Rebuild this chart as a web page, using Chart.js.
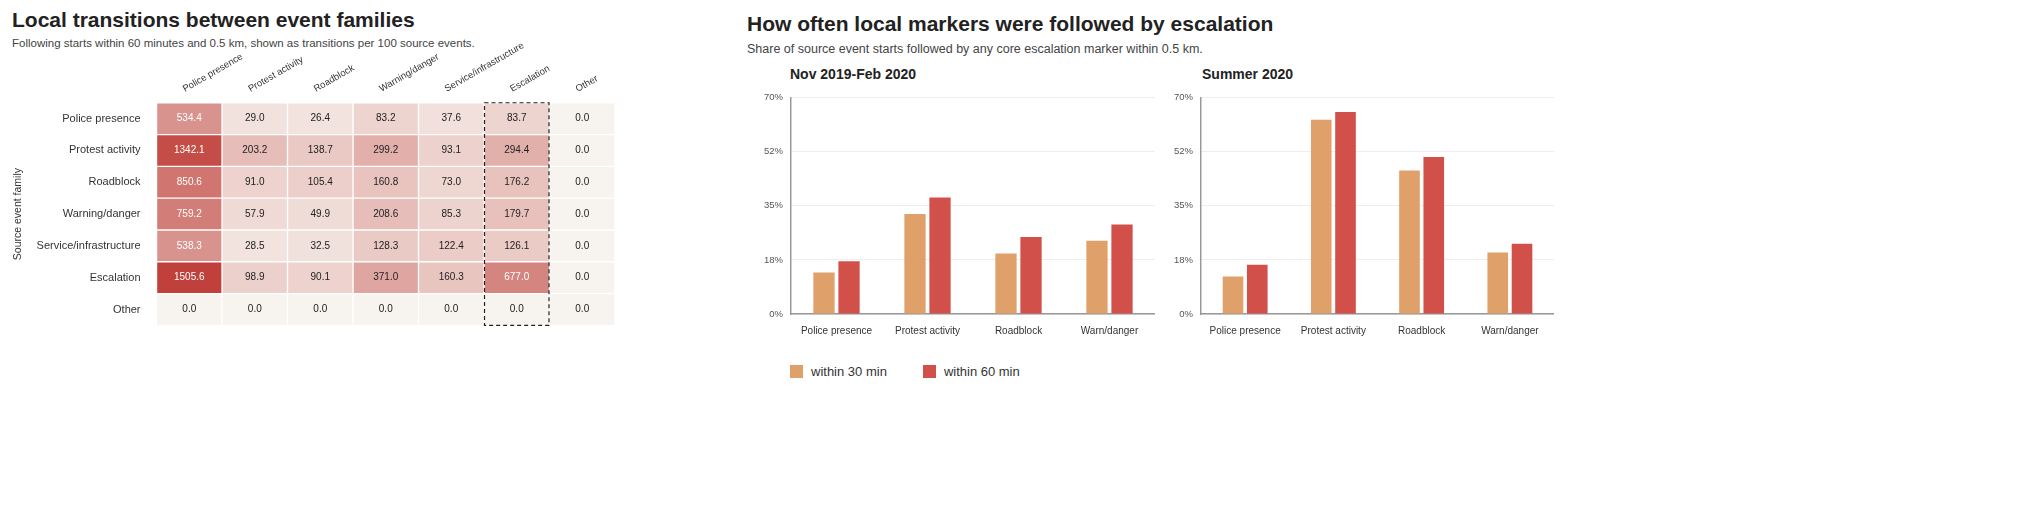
<!DOCTYPE html>
<html><head><meta charset="utf-8">
<script src="https://cdn.jsdelivr.net/npm/chart.js@4"></script>
<style>
body{margin:0;background:#fff;font-family:"Liberation Sans",Arial,sans-serif;width:2044px;height:506px;position:relative;overflow:hidden}
.t{position:absolute;font-weight:bold;color:#222}
.s{position:absolute;color:#444}
.box{position:absolute}
.lg{position:absolute;top:364px;left:790px;font-size:13px;color:#333;display:flex;gap:36px}
.lg span i{display:inline-block;width:13px;height:13px;vertical-align:-2px;margin-right:8px}
</style></head><body>
<div class="t" style="left:12px;top:8px;font-size:21px">Local transitions between event families</div>
<div class="s" style="left:12px;top:37px;font-size:11.5px">Following starts within 60 minutes and 0.5 km, shown as transitions per 100 source events.</div>
<div class="box" style="left:0;top:40px;width:640px;height:300px"><canvas id="heat"></canvas></div>
<div class="t" style="left:747px;top:12px;font-size:21px">How often local markers were followed by escalation</div>
<div class="s" style="left:747px;top:42px;font-size:12.5px">Share of source event starts followed by any core escalation marker within 0.5 km.</div>
<div class="t" style="left:790px;top:66px;font-size:14px">Nov 2019-Feb 2020</div>
<div class="t" style="left:1202px;top:66px;font-size:14px">Summer 2020</div>
<div class="box" style="left:756px;top:84px;width:399px;height:256px"><canvas id="b1"></canvas></div>
<div class="box" style="left:1166px;top:84px;width:388px;height:256px"><canvas id="b2"></canvas></div>
<div class="lg"><span><i style="background:#e0a06a"></i>within 30 min</span><span><i style="background:#d2504a"></i>within 60 min</span></div>
<script>
const families = ['Police presence','Protest activity','Roadblock','Warning/danger','Service/infrastructure','Escalation','Other'];
const rateMatrix = [
  [534.4, 29.0, 26.4, 83.2, 37.6, 83.7, 0.0],
  [1342.1, 203.2, 138.7, 299.2, 93.1, 294.4, 0.0],
  [850.6, 91.0, 105.4, 160.8, 73.0, 176.2, 0.0],
  [759.2, 57.9, 49.9, 208.6, 85.3, 179.7, 0.0],
  [538.3, 28.5, 32.5, 128.3, 122.4, 126.1, 0.0],
  [1505.6, 98.9, 90.1, 371.0, 160.3, 677.0, 0.0],
  [0.0, 0.0, 0.0, 0.0, 0.0, 0.0, 0.0]
];
const markers = ['Police presence','Protest activity','Roadblock','Warn/danger'];
const winterShare30 = [13.4, 32.4, 19.6, 23.7];
const winterShare60 = [17.1, 37.7, 24.9, 29.0];
const summerShare30 = [12.1, 62.9, 46.4, 19.9];
const summerShare60 = [15.9, 65.4, 50.8, 22.7];
const shareTicks = [0, 17.5, 35, 52.5, 70];
const shareTickLabels = ['0%','18%','35%','52%','70%'];

const maxRate = 1505.6;
function cellColor(v) {
  const t = Math.pow(v / maxRate, 0.6);
  const a = [247, 243, 238], b = [192, 65, 60];
  const c = a.map((x, i) => Math.round(x + (b[i] - x) * t));
  return `rgb(${c[0]},${c[1]},${c[2]})`;
}

const cellText = {
  id: 'cellText',
  afterDatasetsDraw(chart) {
    const ctx = chart.ctx;
    ctx.save();
    ctx.font = '10px "Liberation Sans", Arial';
    ctx.textAlign = 'center';
    ctx.textBaseline = 'middle';
    chart.data.datasets.forEach((ds, ci) => {
      chart.getDatasetMeta(ci).data.forEach((bar, ri) => {
        const v = rateMatrix[ri][ci];
        ctx.fillStyle = v > 500 ? '#fff' : '#222';
        ctx.fillText(v.toFixed(1), (bar.x + bar.base) / 2, bar.y);
      });
    });
    // dashed outline around the Escalation column
    const meta = chart.getDatasetMeta(5).data;
    const top = meta[0].y - meta[0].height / 2, bot = meta[6].y + meta[6].height / 2;
    ctx.setLineDash([4, 3]);
    ctx.strokeStyle = '#222';
    ctx.lineWidth = 1.2;
    ctx.strokeRect(meta[0].base + 0.5, top, meta[0].x - meta[0].base - 1, bot - top);
    ctx.restore();
  }
};

new Chart(document.getElementById('heat'), {
  type: 'bar',
  data: {
    labels: families,
    datasets: families.map((f, ci) => ({
      label: f,
      data: families.map(() => 1),
      backgroundColor: families.map((r, ri) => cellColor(rateMatrix[ri][ci])),
      borderColor: '#fff',
      borderWidth: 1,
      borderSkipped: false,
      barPercentage: 1,
      categoryPercentage: 1
    }))
  },
  options: {
    indexAxis: 'y',
    responsive: true, maintainAspectRatio: false, animation: false,
    layout: { padding: { left: 8, right: 25, bottom: 10 } },
    plugins: { legend: { display: false }, tooltip: { enabled: false } },
    scales: {
      x: {
        stacked: true, position: 'top', min: 0, max: 7,
        grid: { display: false }, border: { display: false },
        afterBuildTicks(axis) {
          axis.ticks = [0,1,2,3,4,5,6].map(v => ({ value: v + 0.5 }));
        },
        ticks: {
          autoSkip: false, maxRotation: 30, minRotation: 30,
          color: '#333', font: { size: 9.5 }, padding: 0,
          callback: (v) => families[Math.floor(v)]
        }
      },
      y: {
        stacked: true,
        grid: { display: false }, border: { display: false },
        ticks: { color: '#333', font: { size: 11 }, padding: 8 },
        title: { display: true, text: 'Source event family', color: '#333', font: { size: 10.5 } }
      }
    }
  },
  plugins: [cellText]
});

function barChart(id, s30, s60) {
  new Chart(document.getElementById(id), {
    type: 'bar',
    data: {
      labels: markers,
      datasets: [
        { label: 'within 30 min', data: s30, backgroundColor: '#e0a06a', barPercentage: 0.85, categoryPercentage: 0.55 },
        { label: 'within 60 min', data: s60, backgroundColor: '#d2504a', barPercentage: 0.85, categoryPercentage: 0.55 }
      ]
    },
    options: {
      responsive: true, maintainAspectRatio: false, animation: false,
      layout: { padding: { top: 6 } },
      plugins: { legend: { display: false }, tooltip: { enabled: false } },
      scales: {
        x: {
          grid: { display: false },
          border: { color: '#999', width: 1.5 },
          ticks: { color: '#333', font: { size: 10 } }
        },
        y: {
          min: 0, max: 70,
          afterBuildTicks(axis) { axis.ticks = shareTicks.map(v => ({ value: v })); },
          grid: { color: '#eee', drawTicks: false },
          border: { color: '#999', width: 1.5 },
          ticks: {
            color: '#555', font: { size: 9.5 }, padding: 8,
            callback: (v) => shareTickLabels[shareTicks.indexOf(v)]
          }
        }
      }
    }
  });
}
barChart('b1', winterShare30, winterShare60);
barChart('b2', summerShare30, summerShare60);
</script>
</body></html>
